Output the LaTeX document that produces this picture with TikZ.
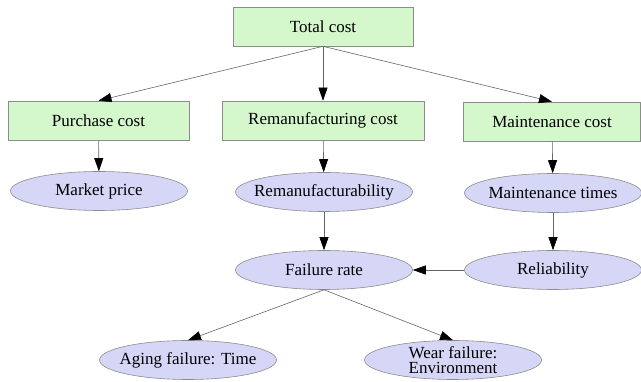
\documentclass[tikz,border=0pt]{standalone}
\usepackage{fontspec}
\setmainfont{Liberation Serif}
\usetikzlibrary{arrows.meta,shapes.geometric}

\definecolor{costgreen}{RGB}{212,247,204}
\definecolor{factorblue}{RGB}{214,214,247}

\begin{document}
\begin{tikzpicture}[x=1pt, y=-1pt,
    font=\fontsize{17}{15.5}\selectfont,
    costbox/.style={rectangle, draw=black!45, fill=costgreen, line width=0.6pt,
      minimum height=39pt, inner sep=0pt},
    factor/.style={ellipse, draw=black!45, fill=factorblue, line width=0.6pt,
      minimum width=177pt, minimum height=39pt, inner xsep=-8pt, inner ysep=-3pt,
      align=center},
    link/.style={draw=black!60, line width=0.6pt, -{Triangle[length=13pt, width=9pt, color=black]}}]

  \useasboundingbox (0, 0) rectangle (641, 382);

  % -- Cost nodes --
  \node[costbox, minimum width=180pt] (total) at (323, 26.5) {Total cost};
  \node[costbox, minimum width=181pt] (purchase) at (98.5, 120.5) {Purchase cost};
  \node[costbox, minimum width=202pt] (reman) at (323, 120.5) {Remanufacturing cost};
  \node[costbox, minimum width=177pt] (maint) at (552, 121.5) {Maintenance cost};

  % -- Factors --
  \node[factor] (market) at (99, 191) {Market price};
  \node[factor] (remfab) at (324, 192) {Remanufacturability};
  \node[factor] (mtimes) at (553, 193) {Maintenance times};
  \node[factor] (failure) at (324, 270) {Failure rate};
  \node[factor] (reliab) at (553, 270) {Reliability};

  % -- Failure modes --
  \node[factor] (aging) at (188, 360) {Aging failure: Time};
  \node[factor] (wear) at (453, 360) {Wear failure:\\Environment};

  % Connectors
  \draw[link] (total.south) -- (purchase.north);
  \draw[link] (total.south) -- (reman.north);
  \draw[link] (total.south) -- (maint.north);
  \draw[link] (purchase) -- (market);
  \draw[link] (reman) -- (remfab);
  \draw[link] (maint) -- (mtimes);
  \draw[link] (remfab) -- (failure);
  \draw[link] (mtimes) -- (reliab);
  \draw[link] (reliab) -- (failure);
  \draw[link] (failure.south) -- (aging.north);
  \draw[link] (failure.south) -- (wear.north);

\end{tikzpicture}
\end{document}
